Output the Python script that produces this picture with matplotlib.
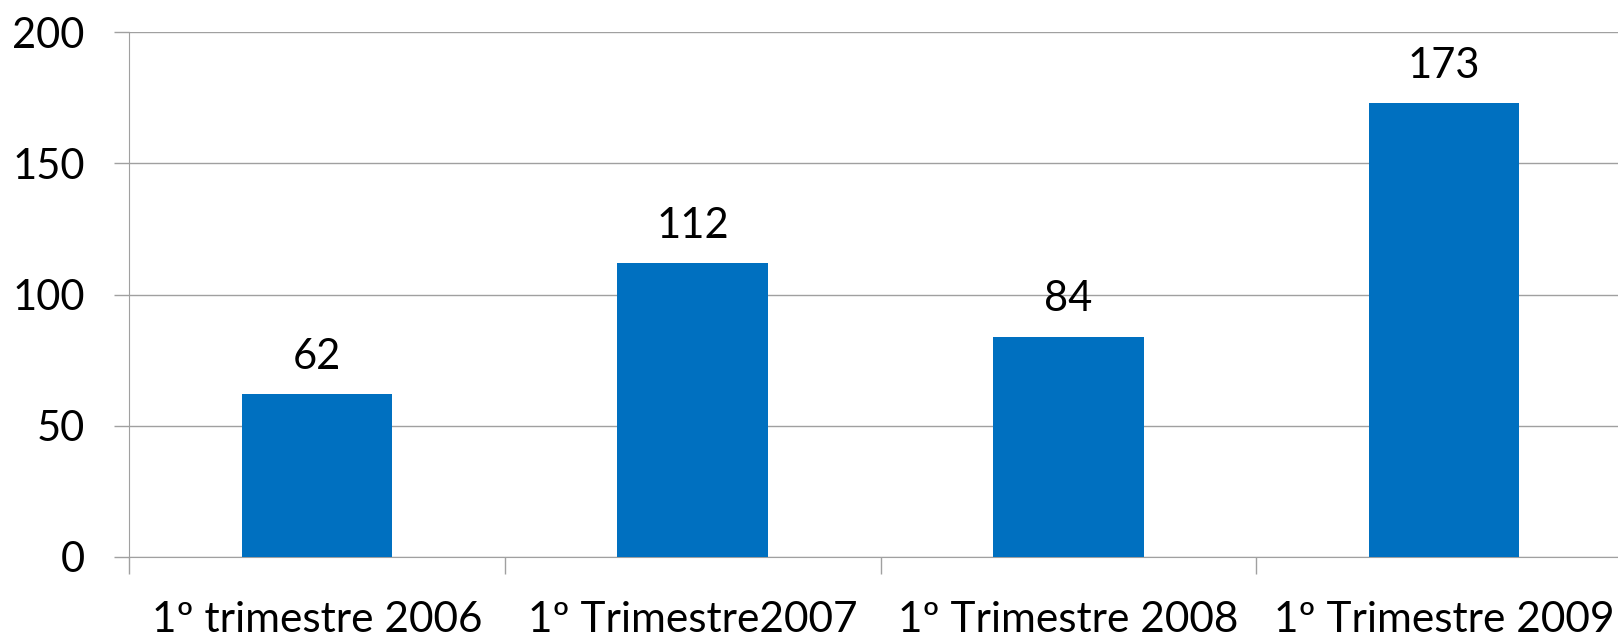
import matplotlib
matplotlib.use('Agg')
from matplotlib import pyplot as plt

categorias = ['1º trimestre 2006', '1º Trimestre2007', '1º Trimestre 2008', '1º Trimestre 2009']
valores = [62, 112, 84, 173]
yticks = [0, 50, 100, 150, 200]

plt.rcParams['font.family'] = ['Lato', 'DejaVu Sans']

fig = plt.figure(figsize=(16.18, 6.39), dpi=100)
# a área do gráfico passa um pouco da borda direita (como no original)
ax = fig.add_axes([129 / 1618, 1 - 557 / 639, (1632 - 129) / 1618, (557 - 32) / 639])

x = range(len(categorias))
bars = ax.bar(x, valores, width=0.4, color='#0070C0', zorder=3)

# rótulos de valor
for b, v in zip(bars, valores):
    ax.annotate(str(v), (b.get_x() + b.get_width() / 2, v), xytext=(0, 13),
                textcoords='offset points', ha='center', va='bottom', fontsize=30)

ax.set_xlim(-0.5, len(categorias) - 0.5)
ax.set_ylim(0, 200)
ax.set_yticks(yticks)
ax.tick_params(axis='y', length=11, width=1, color='#a0a0a0', pad=21, labelsize=30)

# ticks nos limites das categorias, rótulos no centro
ax.set_xticks([i - 0.5 for i in range(len(categorias) + 1)])
ax.set_xticklabels([])
ax.set_xticks(list(x), minor=True)
ax.set_xticklabels(categorias, minor=True, fontsize=30.5)
ax.tick_params(axis='x', which='major', length=12, width=1, color='#a0a0a0')
ax.tick_params(axis='x', which='minor', length=0, pad=32)

ax.grid(axis='y', color='#a0a0a0', linewidth=1, zorder=0)
for s in ['top', 'right']:
    ax.spines[s].set_visible(False)
for s in ['left', 'bottom']:
    ax.spines[s].set_color('#a0a0a0')

plt.savefig('out.png', dpi=100)
